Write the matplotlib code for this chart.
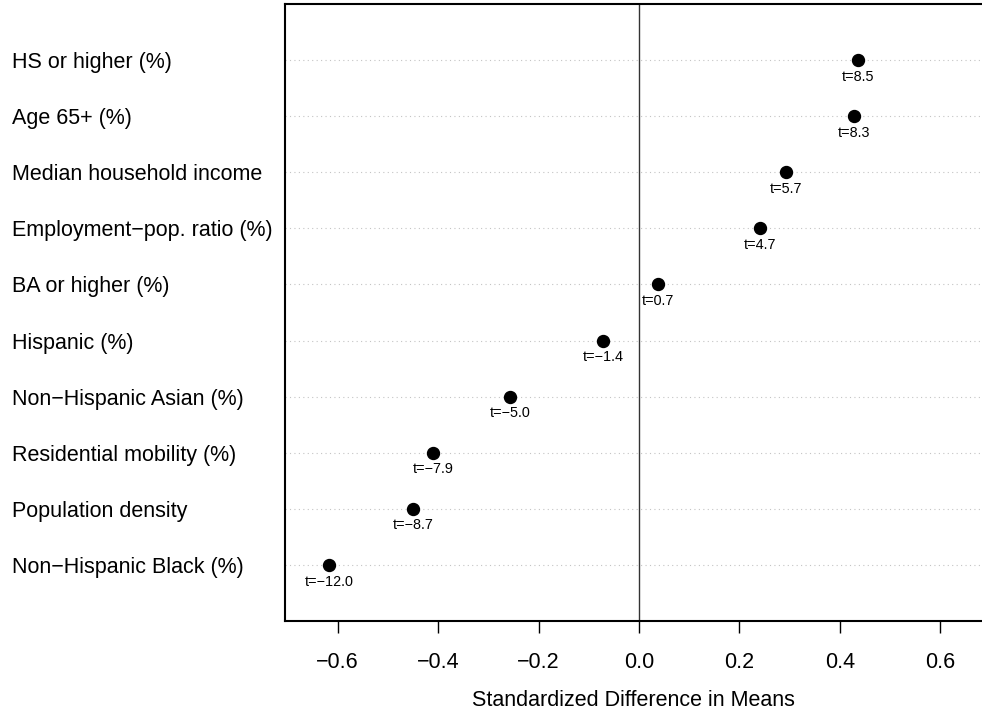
import matplotlib
matplotlib.use("Agg")
import matplotlib.pyplot as plt

plt.rcParams['font.family'] = ['Liberation Sans', 'DejaVu Sans']

categories = ["HS or higher (%)", "Age 65+ (%)", "Median household income",
              "Employment\u2212pop. ratio (%)", "BA or higher (%)", "Hispanic (%)",
              "Non\u2212Hispanic Asian (%)", "Residential mobility (%)",
              "Population density", "Non\u2212Hispanic Black (%)"]
std_diff = [0.436, 0.428, 0.293, 0.241, 0.037, -0.072, -0.256, -0.409, -0.450, -0.616]
t_stats = ["8.5", "8.3", "5.7", "4.7", "0.7", "\u22121.4", "\u22125.0", "\u22127.9", "\u22128.7", "\u221212.0"]
xticks = [-0.6, -0.4, -0.2, 0.0, 0.2, 0.4, 0.6]
xtick_labels = ["\u22120.6", "\u22120.4", "\u22120.2", "0.0", "0.2", "0.4", "0.6"]

fig = plt.figure(figsize=(9.82, 7.12), dpi=100)
ax = fig.add_axes([285/982, (712-621)/712, 1 - 285/982, (621-4)/712])

n = len(categories)
ypos = [n - i for i in range(n)]

ax.set_xlim(-0.7045, 0.6826)
ax.set_ylim(0, n + 1)

for y in ypos:
    ax.axhline(y, color="#c4c4c4", lw=0.8, ls=(0, (1, 3)), zorder=1)
ax.axvline(0, color="#333333", lw=1.0, zorder=2)

ax.plot(std_diff, ypos, "o", color="black", markersize=8.6, zorder=3, linestyle="none")
for x, y, t in zip(std_diff, ypos, t_stats):
    ax.annotate("t=" + t, (x, y), xytext=(0, -12), textcoords="offset points",
                ha="center", va="center", fontsize=10.4, zorder=4)

ax.set_yticks(ypos)
ax.set_yticklabels(categories, fontsize=15.5)
ax.tick_params(axis="y", length=0, pad=(285 - 12) * 0.72)
for lbl in ax.get_yticklabels():
    lbl.set_horizontalalignment("left")

ax.set_xticks(xticks)
ax.set_xticklabels(xtick_labels, fontsize=15.5)
ax.tick_params(axis="x", length=8.6, width=1.0, pad=14, direction="out")

ax.set_xlabel("Standardized Difference in Means", fontsize=15.5, labelpad=12)

for s in ["left", "top", "bottom"]:
    ax.spines[s].set_linewidth(1.5)
ax.spines["right"].set_visible(False)

fig.savefig("out.png", dpi=100)
